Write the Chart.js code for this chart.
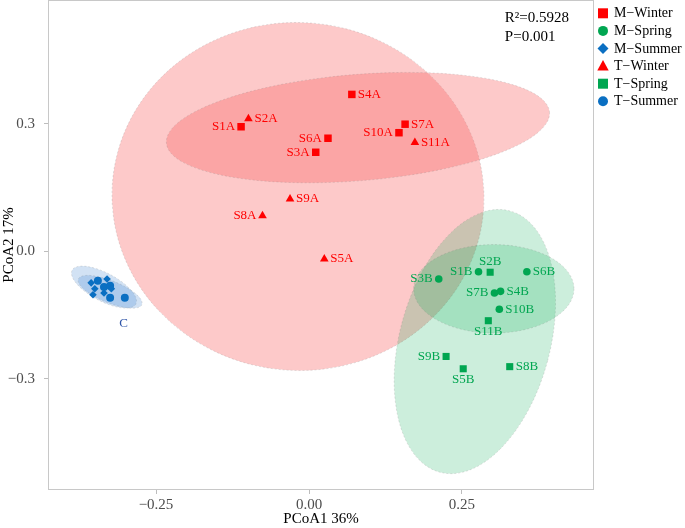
<!DOCTYPE html>
<html>
<head>
<meta charset="utf-8">
<title>PCoA</title>
<script src="https://cdn.jsdelivr.net/npm/chart.js@4.4.0/dist/chart.umd.min.js"></script>
<style>
  html, body { margin: 0; padding: 0; background: #fff; }
  #wrap { width: 685px; height: 528px; position: relative; }
</style>
</head>
<body>
<div id="wrap"><canvas id="pcoaChart"></canvas></div>
<script>
const SERIF = "'Liberation Serif', 'DejaVu Serif', serif";

// sample scores on PCoA1 / PCoA2
const mWinterNames = ['S1A', 'S3A', 'S4A', 'S6A', 'S7A', 'S10A'];
const mWinterX = [-0.111, 0.011, 0.070, 0.031, 0.157, 0.147];
const mWinterY = [0.293, 0.233, 0.369, 0.266, 0.299, 0.279];

const tWinterNames = ['S2A', 'S5A', 'S8A', 'S9A', 'S11A'];
const tWinterX = [-0.099, 0.025, -0.076, -0.031, 0.173];
const tWinterY = [0.312, -0.018, 0.084, 0.123, 0.256];

const mSpringNames = ['S1B', 'S3B', 'S4B', 'S6B', 'S7B', 'S10B'];
const mSpringX = [0.277, 0.212, 0.313, 0.356, 0.303, 0.311];
const mSpringY = [-0.048, -0.065, -0.094, -0.048, -0.098, -0.136];

const tSpringNames = ['S2B', 'S5B', 'S8B', 'S9B', 'S11B'];
const tSpringX = [0.296, 0.252, 0.328, 0.224, 0.293];
const tSpringY = [-0.049, -0.276, -0.271, -0.247, -0.163];

const mSummerX = [-0.356, -0.350, -0.353, -0.330, -0.335, -0.323];
const mSummerY = [-0.074, -0.088, -0.102, -0.065, -0.098, -0.088];

const tSummerX = [-0.345, -0.335, -0.325, -0.325, -0.301];
const tSummerY = [-0.069, -0.084, -0.081, -0.109, -0.109];

// which side of the point each sample name sits on
const mWinterSides = ['l', 'l', 'r', 'l', 'r', 'l'];
const tWinterSides = ['r', 'r', 'l', 'r', 'r'];
const mSpringSides = ['l', 'l', 'r', 'r', 'l', 'r'];
const tSpringSides = ['t', 'b', 'r', 'l', 'b'];

// group confidence ellipses (centre, half axes, tilt in degrees)
const ellipseGroup = ['T-Winter', 'M-Winter', 'T-Spring', 'M-Spring', 'M-Summer', 'T-Summer'];
const ellipseCX = [-0.018, 0.080, 0.271, 0.302, -0.335, -0.325];
const ellipseCY = [0.129, 0.291, -0.212, -0.088, -0.084, -0.095];
const ellipseRX = [0.304, 0.314, 0.123, 0.131, 0.059, 0.056];
const ellipseRY = [0.409, 0.125, 0.318, 0.104, 0.033, 0.026];
const ellipseTilt = [4, -4.6, 15, 0, 28, 22];

const xTickValues = [-0.25, 0, 0.25];
const yTickValues = [-0.3, 0, 0.3];

const statsLines = ['R\u00b2=0.5928', 'P=0.001'];
const statsX = 0.320;
const statsY = [0.549, 0.505];

const groupNote = 'C';
const groupNoteX = -0.303;
const groupNoteY = -0.169;

const RED = '#ff0000';
const GREEN = '#00a651';
const BLUE = '#0a6fc2';
const fillFor = {
  'T-Winter': 'rgba(250,100,100,0.35)',
  'M-Winter': 'rgba(250,100,100,0.35)',
  'T-Spring': 'rgba(0,170,80,0.2)',
  'M-Spring': 'rgba(0,170,80,0.2)',
  'M-Summer': 'rgba(30,110,200,0.2)',
  'T-Summer': 'rgba(30,110,200,0.2)'
};

const pts = (xs, ys) => xs.map((v, i) => ({ x: v, y: ys[i] }));
const fmt = (v, d) => (v < 0 ? '\u2212' : '') + Math.abs(v).toFixed(d);

const datasets = [
  { label: 'M\u2212Winter', data: pts(mWinterX, mWinterY), pointStyle: 'rect', pointRadius: 5.3, backgroundColor: RED, names: mWinterNames, sides: mWinterSides },
  { label: 'M\u2212Spring', data: pts(mSpringX, mSpringY), pointStyle: 'circle', pointRadius: 3.8, backgroundColor: GREEN, names: mSpringNames, sides: mSpringSides },
  { label: 'M\u2212Summer', data: pts(mSummerX, mSummerY), pointStyle: 'rectRot', pointRadius: 3.8, backgroundColor: BLUE },
  { label: 'T\u2212Winter', data: pts(tWinterX, tWinterY), pointStyle: 'triangle', pointRadius: 5, backgroundColor: RED, names: tWinterNames, sides: tWinterSides },
  { label: 'T\u2212Spring', data: pts(tSpringX, tSpringY), pointStyle: 'rect', pointRadius: 5, backgroundColor: GREEN, names: tSpringNames, sides: tSpringSides },
  { label: 'T\u2212Summer', data: pts(tSummerX, tSummerY), pointStyle: 'circle', pointRadius: 4, backgroundColor: BLUE }
];
datasets.forEach(d => { d.borderWidth = 0; d.pointBorderWidth = 0; d.pointHoverRadius = d.pointRadius; });

function drawMarker(ctx, style, x, y, r, color) {
  ctx.fillStyle = color;
  ctx.beginPath();
  if (style === 'rect') {
    ctx.rect(x - r, y - r, 2 * r, 2 * r);
  } else if (style === 'circle') {
    ctx.arc(x, y, r, 0, Math.PI * 2);
  } else if (style === 'rectRot') {
    ctx.moveTo(x, y - r); ctx.lineTo(x + r, y); ctx.lineTo(x, y + r); ctx.lineTo(x - r, y);
  } else if (style === 'triangle') {
    ctx.moveTo(x, y - r); ctx.lineTo(x + r * 0.95, y + r * 0.75); ctx.lineTo(x - r * 0.95, y + r * 0.75);
  }
  ctx.closePath();
  ctx.fill();
}

const pcoaExtras = {
  id: 'pcoaExtras',
  beforeDatasetsDraw(chart) {
    const { ctx, chartArea: a, scales: { x, y } } = chart;
    const kx = Math.abs(x.getPixelForValue(1) - x.getPixelForValue(0));
    const ky = Math.abs(y.getPixelForValue(0) - y.getPixelForValue(1));
    ctx.save();
    ctx.beginPath();
    ctx.rect(a.left, a.top, a.right - a.left, a.bottom - a.top);
    ctx.clip();
    ellipseCX.forEach((cx, i) => {
      ctx.beginPath();
      ctx.ellipse(x.getPixelForValue(cx), y.getPixelForValue(ellipseCY[i]),
        ellipseRX[i] * kx, ellipseRY[i] * ky, ellipseTilt[i] * Math.PI / 180, 0, Math.PI * 2);
      ctx.fillStyle = fillFor[ellipseGroup[i]];
      ctx.fill();
      ctx.setLineDash([2, 2]);
      ctx.lineWidth = 0.6;
      ctx.strokeStyle = 'rgba(120,120,120,0.35)';
      ctx.stroke();
    });
    ctx.restore();
  },
  afterDatasetsDraw(chart) {
    const { ctx, scales: { x, y } } = chart;
    ctx.save();
    ctx.font = '13px ' + SERIF;
    chart.data.datasets.forEach((ds, i) => {
      if (!ds.names) return;
      const meta = chart.getDatasetMeta(i);
      ctx.fillStyle = ds.backgroundColor;
      ds.names.forEach((name, j) => {
        const el = meta.data[j];
        const side = ds.sides[j];
        let tx = el.x, ty = el.y;
        ctx.textBaseline = 'middle';
        if (side === 'l') { ctx.textAlign = 'right'; tx -= 6; }
        else if (side === 'r') { ctx.textAlign = 'left'; tx += 6; }
        else if (side === 't') { ctx.textAlign = 'center'; ty -= 11; }
        else { ctx.textAlign = 'center'; ty += 11; }
        ctx.fillText(name, tx, ty);
      });
    });
    ctx.fillStyle = '#2f55a8';
    ctx.textAlign = 'center';
    ctx.fillText(groupNote, x.getPixelForValue(groupNoteX), y.getPixelForValue(groupNoteY));
    ctx.restore();
  },
  afterDraw(chart) {
    const { ctx, chartArea: a, scales: { x, y } } = chart;
    ctx.save();
    // panel border
    ctx.strokeStyle = '#c8c8c8';
    ctx.lineWidth = 1;
    ctx.strokeRect(a.left + 0.5, a.top + 0.5, a.right - a.left - 1, a.bottom - a.top - 1);
    // stats
    ctx.fillStyle = '#000';
    ctx.font = '15px ' + SERIF;
    ctx.textAlign = 'left';
    ctx.textBaseline = 'middle';
    statsLines.forEach((t, i) => ctx.fillText(t, x.getPixelForValue(statsX), y.getPixelForValue(statsY[i])));
    // legend
    const lx = a.right + 9, ly = 13.3, step = 17.6;
    const legendR = { rect: 5, circle: 5, rectRot: 5.5, triangle: 6 };
    ctx.font = '14px ' + SERIF;
    chart.data.datasets.forEach((ds, i) => {
      const cy = ly + i * step;
      drawMarker(ctx, ds.pointStyle, lx, cy, legendR[ds.pointStyle], ds.backgroundColor);
      ctx.fillStyle = '#000';
      ctx.fillText(ds.label, lx + 11, cy + 0.5);
    });
    ctx.restore();
  }
};

new Chart(document.getElementById('pcoaChart'), {
  type: 'scatter',
  data: { datasets },
  options: {
    responsive: true,
    maintainAspectRatio: false,
    animation: false,
    layout: { autoPadding: false, padding: { top: 0, right: 91, left: 0, bottom: 0 } },
    plugins: { legend: { display: false }, tooltip: { enabled: false } },
    scales: {
      x: {
        type: 'linear',
        min: -0.4265,
        max: 0.4657,
        afterBuildTicks: s => { s.ticks = xTickValues.map(v => ({ value: v })); },
        afterFit: s => { s.height = 38; s.paddingLeft = 0; s.paddingRight = 0; },
        ticks: { callback: v => fmt(v, 2), font: { family: SERIF, size: 15 }, color: '#4d4d4d', padding: 2, maxRotation: 0 },
        grid: { display: true, drawOnChartArea: false, drawTicks: true, tickLength: 4, color: '#bdbdbd' },
        border: { display: false },
        title: { display: true, text: 'PCoA1 36%', font: { family: SERIF, size: 15 }, color: '#000', padding: 0 }
      },
      y: {
        type: 'linear',
        min: -0.561,
        max: 0.591,
        afterBuildTicks: s => { s.ticks = yTickValues.map(v => ({ value: v })); },
        afterFit: s => { s.width = 48; s.paddingTop = 0; s.paddingBottom = 0; },
        ticks: { callback: v => fmt(v, 1), font: { family: SERIF, size: 15 }, color: '#4d4d4d', padding: 9 },
        grid: { display: true, drawOnChartArea: false, drawTicks: true, tickLength: 4, color: '#bdbdbd' },
        border: { display: false },
        title: { display: true, text: 'PCoA2 17%', font: { family: SERIF, size: 15 }, color: '#000', padding: 0 }
      }
    }
  },
  plugins: [pcoaExtras]
});
</script>
</body>
</html>
